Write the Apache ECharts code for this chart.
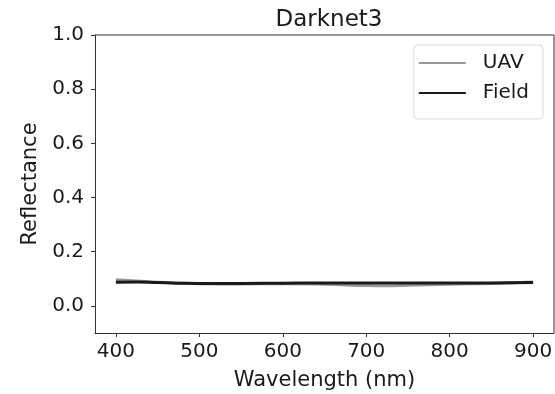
<!DOCTYPE html>
<html>
<head>
<meta charset="utf-8">
<script src="https://cdn.jsdelivr.net/npm/echarts@6/dist/echarts.min.js"></script>
<style>
  html, body { margin: 0; padding: 0; background: #fff; }
  #chart { width: 555px; height: 394px; }
</style>
</head>
<body>
<div id="chart"></div>
<script>
const wavelengths = [400, 425, 450, 475, 500, 550, 600, 650, 700, 725, 750, 800, 850, 900];
const uavValues = [0.097, 0.092, 0.087, 0.084, 0.082, 0.081, 0.082, 0.080, 0.075, 0.074, 0.076, 0.080, 0.083, 0.088];
const fieldValues = [0.087, 0.088, 0.086, 0.084, 0.083, 0.083, 0.084, 0.085, 0.085, 0.085, 0.085, 0.085, 0.085, 0.086];
const xTicks = [400, 500, 600, 700, 800, 900];
const yTicks = [0.0, 0.2, 0.4, 0.6, 0.8, 1.0];

const chart = echarts.init(document.getElementById('chart'));
const font = 'DejaVu Sans';

const option = {
  animation: false,
  title: {
    text: 'Darknet3',
    left: 324,
    textAlign: 'center',
    top: 4,
    textStyle: { fontFamily: font, fontSize: 23, fontWeight: 'normal', color: '#1a1a1a' }
  },
  legend: {
    right: 12,
    top: 45,
    orient: 'vertical',
    itemWidth: 47,
    itemHeight: 2,
    itemGap: 10,
    padding: [8, 14, 16, 5],
    borderColor: '#d9d9d9',
    borderWidth: 1,
    borderRadius: 4,
    icon: 'rect',
    textStyle: { fontFamily: font, fontSize: 20, lineHeight: 20, color: '#1a1a1a', padding: [0, 0, 0, 12] },
    data: ['UAV', 'Field']
  },
  grid: { left: 95, right: 1, top: 35, bottom: 61, outerBoundsMode: 'none', containLabel: false },
  xAxis: {
    type: 'value',
    min: 375,
    max: 925,
    axisLine: { onZero: false, lineStyle: { color: '#333' } },
    axisTick: { show: true, length: 4, lineStyle: { color: '#333' }, customValues: xTicks },
    axisLabel: {
      fontFamily: font, fontSize: 20, color: '#1a1a1a', margin: 9,
      customValues: xTicks
    },
    splitLine: { show: false },
    name: 'Wavelength (nm)',
    nameLocation: 'middle',
    nameGap: 37,
    nameTextStyle: { fontFamily: font, fontSize: 21, color: '#1a1a1a' }
  },
  yAxis: {
    type: 'value',
    min: -0.1,
    max: 1.0,
    axisLine: { show: true, lineStyle: { color: '#333' } },
    axisTick: { show: true, length: 4, lineStyle: { color: '#333' }, customValues: yTicks },
    axisLabel: {
      fontFamily: font, fontSize: 20, color: '#1a1a1a', margin: 11,
      customValues: yTicks,
      formatter: v => v.toFixed(1)
    },
    splitLine: { show: false },
    name: 'Reflectance',
    nameLocation: 'middle',
    nameGap: 48,
    nameTextStyle: { fontFamily: font, fontSize: 21, color: '#1a1a1a' }
  },
  series: [
    {
      name: 'UAV',
      type: 'line',
      smooth: true,
      showSymbol: false,
      color: '#999999',
      lineStyle: { width: 3, color: '#999999' },
      data: wavelengths.map((w, i) => [w, uavValues[i]])
    },
    {
      name: 'Field',
      type: 'line',
      smooth: true,
      showSymbol: false,
      color: '#1a1a1a',
      lineStyle: { width: 3, color: '#1a1a1a' },
      data: wavelengths.map((w, i) => [w, fieldValues[i]])
    }
  ]
};

chart.setOption(option);
// top and right frame like the original plot box
chart.setOption({
  graphic: [
    { type: 'line', shape: { x1: 95, y1: 35, x2: 554, y2: 35 }, style: { stroke: '#333', lineWidth: 1 } },
    { type: 'line', shape: { x1: 554, y1: 35, x2: 554, y2: 333 }, style: { stroke: '#333', lineWidth: 1 } }
  ]
});
</script>
</body>
</html>
